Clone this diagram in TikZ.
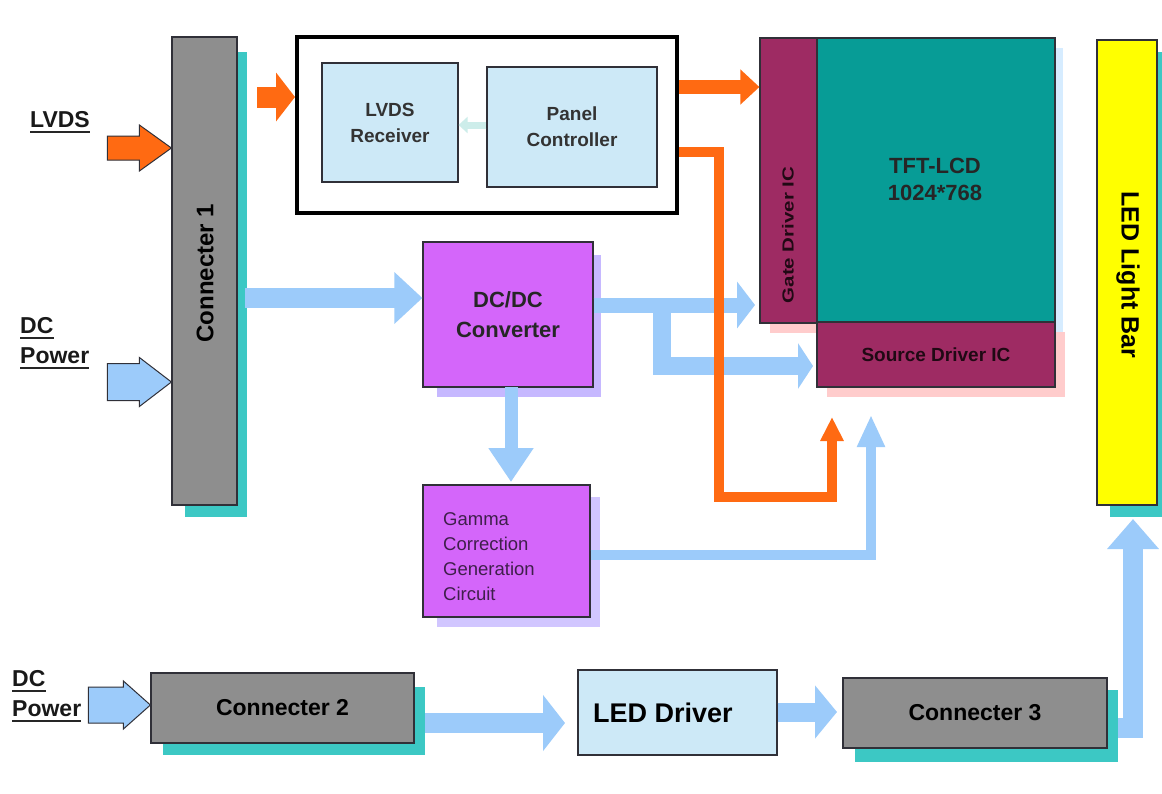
\documentclass[tikz,border=0pt]{standalone}
\usepackage{fontspec}
\setmainfont{Liberation Sans}
\usetikzlibrary{arrows.meta,backgrounds,calc}
\definecolor{cgray}{HTML}{8E8E8E}
\definecolor{cteal}{HTML}{3CC8C4}
\definecolor{corange}{HTML}{FF6A12}
\definecolor{cblue}{HTML}{9CCBFA}
\definecolor{cbox}{HTML}{CDE9F7}
\definecolor{cmaroon}{HTML}{9E2B63}
\definecolor{ctft}{HTML}{079C96}
\definecolor{cyellow}{HTML}{FFFF00}
\definecolor{cmag}{HTML}{D466FA}
\definecolor{clav}{HTML}{C6B8FF}
\definecolor{cpink}{HTML}{FFCCCC}
\definecolor{cshtft}{HTML}{D6ECFF}
\definecolor{cedge}{HTML}{303038}
\definecolor{cfaint}{HTML}{CDEDEA}
\newcommand\fsz[2]{\fontsize{#1}{#2}\selectfont}
\begin{document}
\begin{tikzpicture}[x=1pt,y=-1pt,
  bx/.style={rectangle, draw=cedge, line width=1.2pt, inner sep=0pt, align=center},
  gbox/.style={bx, fill=cgray},
  lbox/.style={bx, fill=cbox},
  mbox/.style={bx, fill=cmaroon},
  pbox/.style={bx, fill=cmag},
  txt/.style={inner sep=0pt, align=center, text=black},
  lab/.style={inner sep=0pt, font=\fsz{23}{27}\bfseries, text=black!90},
  uline/.style={draw=black!85, line width=2.2pt},
  bline/.style={draw=cblue, line join=miter},
  oline/.style={draw=corange, line join=miter},
  inarrow/.style={draw=cedge, line width=1pt, line join=miter}
]
\useasboundingbox (0,0) rectangle (1162,793);

% ---------- nodes ----------
\node[gbox, minimum width=65pt, minimum height=468pt] (con1) at (204.5,271) {};
\node[txt, rotate=90, font=\fsz{24}{28}\bfseries] (con1t) at (205,273) {Connecter 1};

\node[rectangle, draw=black, line width=4pt, fill=white, inner sep=0pt,
      minimum width=380pt, minimum height=176pt] (ctl) at (487,125) {};
\node[lbox, minimum width=136pt, minimum height=119pt, font=\fsz{19}{26}\bfseries,
      text=black!80] (rx) at (390,122.5) {LVDS\\Receiver};
\node[lbox, minimum width=170pt, minimum height=120pt, font=\fsz{19}{26}\bfseries,
      text=black!80] (pc) at (572,127) {Panel\\Controller};

\node[mbox, minimum width=57pt, minimum height=285pt] (gate) at (788.5,180.5) {};
\node[txt, rotate=90, font=\fsz{16}{18}\bfseries, text={black!80!cmaroon}] (gatet) at (788,235)
     {\scalebox{1.28}[1]{Gate Driver IC}};
\node[bx, fill=ctft, minimum width=238pt, minimum height=284pt] (tft) at (936,180) {};
\node[txt, font=\fsz{22}{27}\bfseries, text=black!85] (tftt) at (935,179) {TFT-LCD\\1024*768};
\node[mbox, minimum width=238pt, minimum height=65pt, font=\fsz{19}{22}\bfseries,
      text={black!80!cmaroon}] (src) at (936,354.5) {Source Driver IC};

\node[bx, fill=cyellow, minimum width=60pt, minimum height=465pt] (bar) at (1127,272.5) {};
\node[txt, rotate=-90, font=\fsz{25}{28}\bfseries] (bart) at (1128,275) {LED Light Bar};

\node[pbox, minimum width=170pt, minimum height=145pt, font=\fsz{22}{30}\bfseries,
      text=black!85] (dcdc) at (508,314.5) {DC/DC\\Converter};
\node[pbox, minimum width=167pt, minimum height=132pt] (gamma) at (506.5,551) {};
\node[txt, anchor=west, align=left, font=\fsz{18.5}{25}, text={black!70!cmag}] (gammat) at (443,557)
     {Gamma\\Correction\\Generation\\Circuit};

\node[gbox, minimum width=263pt, minimum height=70pt, font=\fsz{23}{27}\bfseries] (con2) at (282.5,708) {Connecter 2};
\node[lbox, minimum width=199pt, minimum height=85pt] (ledd) at (677.5,712.5) {};
\node[txt, font=\fsz{27}{30}\bfseries] (leddt) at (663,713) {LED Driver};
\node[gbox, minimum width=264pt, minimum height=70pt, font=\fsz{23}{27}\bfseries] (con3) at (975,713) {Connecter 3};

% ---------- labels ----------
\node[lab, anchor=base west] (lvds) at (30,127) {LVDS};
\node[lab, anchor=base west] (dc1) at (20,333) {DC};
\node[lab, anchor=base west] (pw1) at (20,363) {Power};
\node[lab, anchor=base west] (dc2) at (12,686) {DC};
\node[lab, anchor=base west] (pw2) at (12,716) {Power};
\foreach \n in {lvds,dc1,pw1,dc2,pw2}
  \draw[uline] ($(\n.base west)+(0,5)$) -- ($(\n.base east)+(0,5)$);

% ---------- shadows ----------
\begin{scope}[on background layer]
  \fill[white] (0,0) rectangle (1162,793);
  \fill[cteal] (185,52) rectangle (247,517);
  \fill[cteal] (163,687) rectangle (425,755);
  \fill[cteal] (855,690) rectangle (1118,762);
  \fill[cteal] (1110,52) rectangle (1162,517);
  \fill[cshtft] (827,48) rectangle (1063,332);
  \fill[cpink] (770,48) rectangle (827,333);
  \fill[cpink] (827,332) rectangle (1065,397);
  \fill[clav] (437,255) rectangle (601,397);
  \fill[clav!80] (437,497) rectangle (600,627);
\end{scope}

% ---------- input block arrows ----------
\coordinate (t1) at (con1.west |- {(0,148)});
\filldraw[inarrow, fill=corange] (t1) -- ++(-32,-23) -- ++(0,11) -- ++(-32,0) -- ++(0,24)
   -- ++(32,0) -- ++(0,11) -- cycle;
\coordinate (t2) at (con1.west |- {(0,382)});
\filldraw[inarrow, fill=cblue] (t2) -- ++(-32,-24.5) -- ++(0,6) -- ++(-32,0) -- ++(0,37)
   -- ++(32,0) -- ++(0,6) -- cycle;
\coordinate (t3) at (con2.west |- {(0,705)});
\filldraw[inarrow, fill=cblue] (t3) -- ++(-27,-24) -- ++(0,6) -- ++(-35,0) -- ++(0,36)
   -- ++(35,0) -- ++(0,6) -- cycle;

% ---------- blue connectors ----------
\coordinate (b1) at (245,298);
\draw[bline, line width=20pt, -{Triangle[length=28pt,width=50pt]}] (b1) -- (dcdc.west |- b1);
\coordinate (b2) at (dcdc.east |- {(0,305)});
\coordinate (b2e) at (755,305);
\draw[bline, line width=15pt, -{Triangle[length=18pt,width=46pt]}] (b2) -- (b2e);
\coordinate (b3) at (662,305);
\coordinate (b3e) at (813,366);
\draw[bline, line width=18pt, -{Triangle[length=15pt,width=45pt]}] (b3) -- (b3 |- b3e) -- (b3e);
\coordinate (b4) at (511,387);
\coordinate (b4e) at (511,482);
\draw[bline, line width=13pt, -{Triangle[length=34pt,width=43pt]}] (b4) -- (b4e);
\coordinate (b5) at (gamma.east |- {(0,555)});
\coordinate (b5e) at (871,415);
\draw[bline, line width=10pt, -{Triangle[length=32pt,width=26pt]}] (b5) -- (b5e |- b5) -- (b5e);
\coordinate (b6) at (425,723);
\coordinate (b6e) at (565,723);
\draw[bline, line width=20pt, -{Triangle[length=22pt,width=55pt]}] (b6) -- (b6e);
\coordinate (b7) at (ledd.east |- {(0,712)});
\coordinate (b7e) at (837,712);
\draw[bline, line width=19pt, -{Triangle[length=22pt,width=52pt]}] (b7) -- (b7e);
\coordinate (b8) at (1118,728);
\coordinate (b8e) at (1133,519);
\draw[bline, line width=20pt, -{Triangle[length=30pt,width=50pt]}] (b8) -- (b8e |- b8) -- (b8e);
\draw[draw=cfaint, line width=7pt, -{Triangle[length=9pt,width=16pt]}] (pc.west |- {(0,125)}) -- (rx.east |- {(0,125)});

% ---------- orange connectors ----------
\coordinate (o1) at (257,97);
\draw[oline, line width=21pt, -{Triangle[length=19pt,width=48pt]}] (o1) -- (ctl.west |- o1);
\coordinate (o2) at (679,87);
\draw[oline, line width=14pt, -{Triangle[length=19pt,width=34pt]}] (o2) -- (gate.west |- o2);
\coordinate (o3) at (679,152);
\coordinate (o3e) at (832,417);
\draw[oline, line width=10pt, -{Triangle[length=24pt,width=22pt]}] (o3) -- (719,152) -- (719,497) -- (o3e |- {(0,497)}) -- (o3e);
\end{tikzpicture}
\end{document}
